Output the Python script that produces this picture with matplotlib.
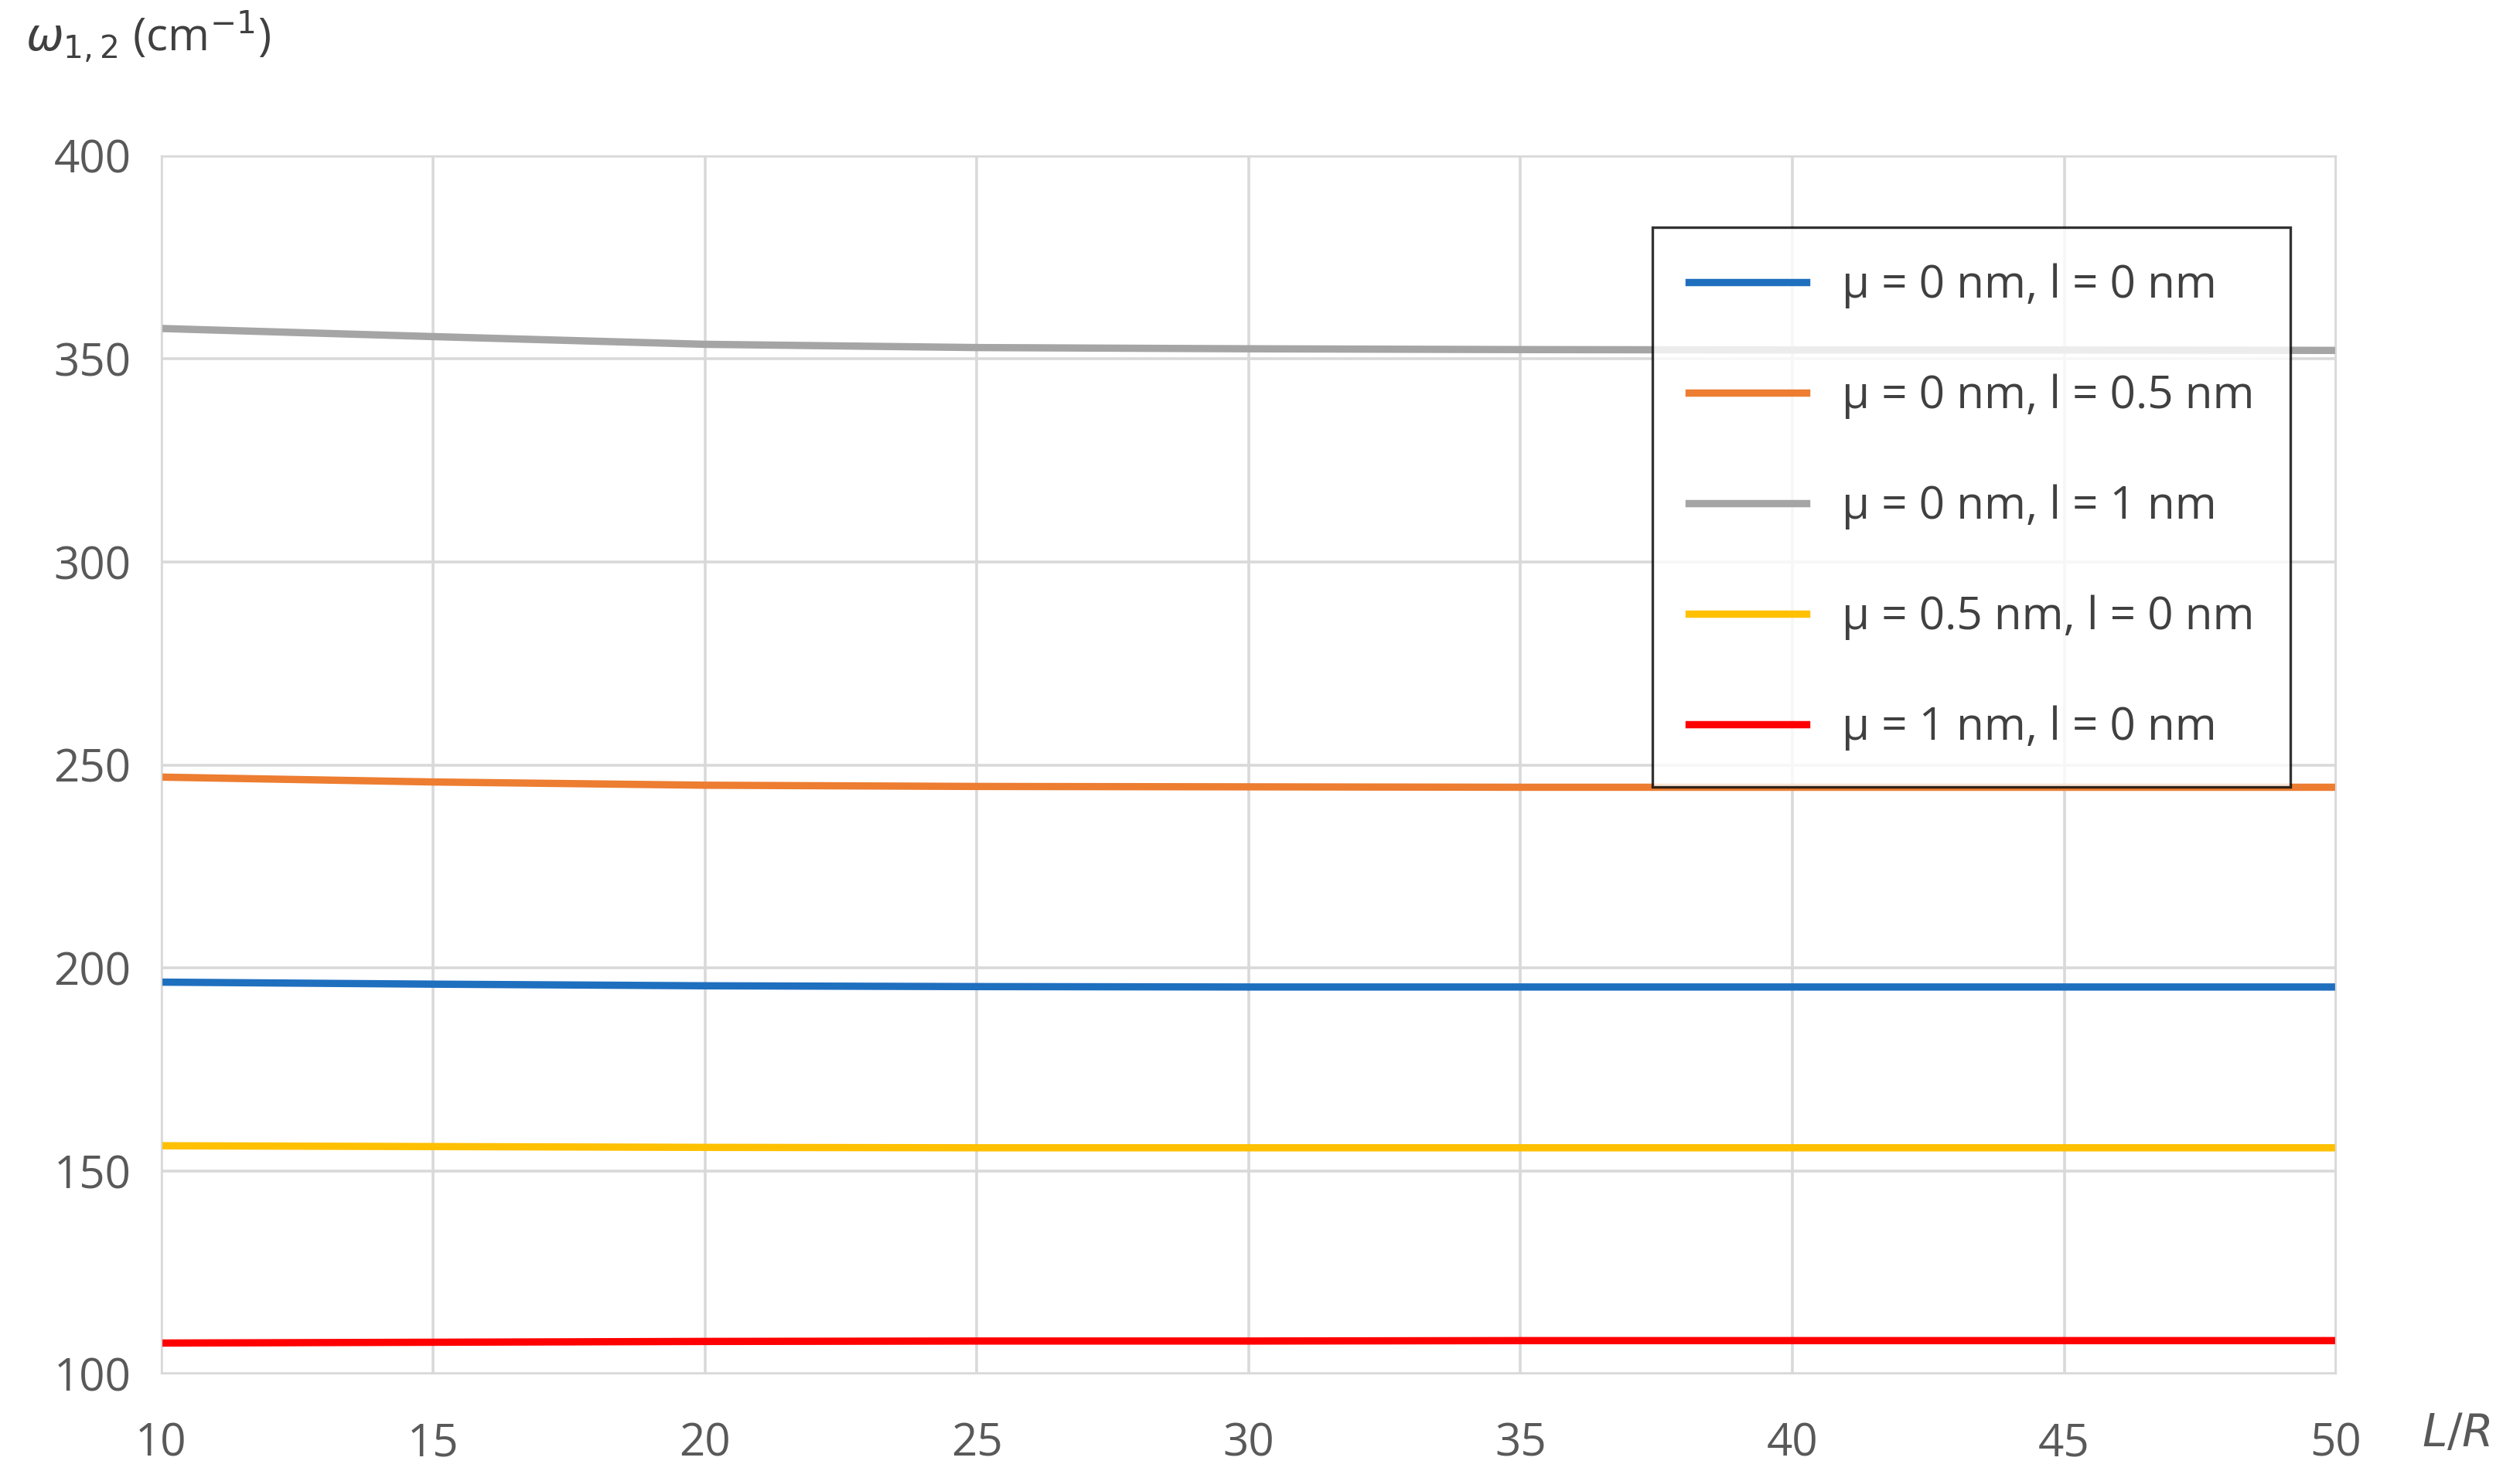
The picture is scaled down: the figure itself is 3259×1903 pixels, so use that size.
import matplotlib
matplotlib.use("Agg")
import matplotlib.pyplot as plt

plt.rcParams['font.family'] = ['Open Sans', 'DejaVu Sans']

x = [10, 15, 20, 25, 30, 35, 40, 45, 50]
labels = ["μ = 0 nm, l = 0 nm", "μ = 0 nm, l = 0.5 nm", "μ = 0 nm, l = 1 nm",
          "μ = 0.5 nm, l = 0 nm", "μ = 1 nm, l = 0 nm"]
blue = [196.5, 196.0, 195.6, 195.4, 195.3, 195.3, 195.3, 195.3, 195.3]
orange = [247.0, 245.8, 245.0, 244.7, 244.6, 244.5, 244.5, 244.5, 244.5]
gray = [357.5, 355.5, 353.6, 352.8, 352.5, 352.3, 352.2, 352.2, 352.1]
yellow = [156.2, 156.0, 155.8, 155.7, 155.7, 155.7, 155.7, 155.7, 155.7]
red = [107.6, 107.8, 108.0, 108.1, 108.1, 108.2, 108.2, 108.2, 108.2]
series = [blue, orange, gray, yellow, red]
colors = ["#1f6fbf", "#ed7d31", "#a5a5a5", "#ffc000", "#ff0000"]

fig = plt.figure(figsize=(16.295, 9.515), dpi=200)
ax = fig.add_axes([0.064, 0.066, 0.863, 0.828])
for y, c, l in zip(series, colors, labels):
    ax.plot(x, y, color=c, lw=3.4, label=l)
ax.set_xlim(10, 50)
ax.set_ylim(100, 400)
ax.set_xticks(range(10, 51, 5))
ax.set_yticks(range(100, 401, 50))
ax.grid(True, color="#d9d9d9", lw=1.3)
for s in ax.spines.values():
    s.set_color("#d9d9d9")
ax.tick_params(axis='y', length=0, labelsize=21, colors="#595959", pad=14)
ax.tick_params(axis='x', length=0, labelsize=21, colors="#595959", pad=22)
fig.text(0.01, 0.975, r"$\omega_{1,2}$ (cm$^{-1}$)", fontsize=21,
         color="#404040", va="center")
ax.text(1.055, -0.05, r"$L/R$", transform=ax.transAxes, fontsize=21,
        color="#595959", va="center", ha="center")
leg = ax.legend(loc="upper right", bbox_to_anchor=(0.9895, 0.96), fontsize=21,
                frameon=True, fancybox=False, edgecolor="black",
                labelspacing=1.45, handlelength=2.6, borderpad=0.8,
                labelcolor="#404040")
leg.get_frame().set_linewidth(1.2)
fig.savefig("out.png", dpi=200)
